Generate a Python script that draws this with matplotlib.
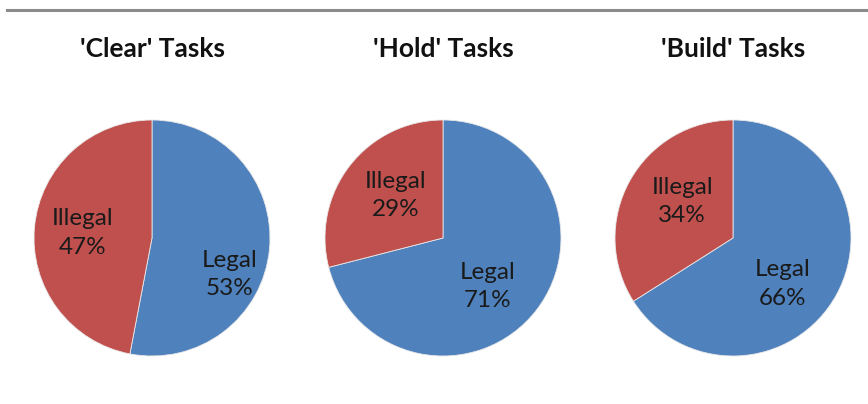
import matplotlib
matplotlib.use("Agg")
import matplotlib.pyplot as plt
from matplotlib.lines import Line2D

plt.rcParams["font.family"] = ["Lato", "DejaVu Sans"]

# task categories and their legal / illegal shares (percent)
titles = ["'Clear' Tasks", "'Hold' Tasks", "'Build' Tasks"]
legal_pct = [53, 71, 66]
illegal_pct = [47, 29, 34]
slice_names = ["Legal", "Illegal"]

COLORS = ["#4F81BD", "#C0504D"]

# label placement inside each pie, in radius units: (legal, illegal)
LABEL_POS = [
    ((0.66, -0.31), (-0.59, 0.04)),
    ((0.38, -0.41), (-0.40, 0.36)),
    ((0.42, -0.39), (-0.43, 0.31)),
]

W, H = 868, 404
fig = plt.figure(figsize=(W / 100, H / 100), dpi=100)

centers_x = [152, 443, 733]
center_y = 238
radius_px = 118
half = 1.1  # axis half-extent in radius units
box = 2 * half * radius_px

for i, title in enumerate(titles):
    cx = centers_x[i]
    ax = fig.add_axes([(cx - box / 2) / W, (H - center_y - box / 2) / H, box / W, box / H])
    ax.pie([legal_pct[i], illegal_pct[i]], colors=COLORS, startangle=90,
           counterclock=False, radius=1.0,
           wedgeprops=dict(edgecolor="#e8e8e8", linewidth=0.6))
    ax.set_xlim(-half, half)
    ax.set_ylim(-half, half)
    ax.set_aspect("equal")
    ax.axis("off")

    for name, val, (lx, ly) in zip(slice_names, [legal_pct[i], illegal_pct[i]], LABEL_POS[i]):
        ax.text(lx, ly, f"{name}\n{val}%", ha="center", va="center",
                fontsize=17.5, color="#1a1a1a", linespacing=1.45)

    fig.text(cx / W, 1 - 57 / H, title, ha="center", va="baseline",
             fontsize=19, fontweight="bold", color="#111111")

# thin grey rule along the top
fig.add_artist(Line2D([7 / W, 1.0], [1 - 9.5 / H, 1 - 9.5 / H],
                      transform=fig.transFigure, color="#8a8a8a", linewidth=2.2))

fig.savefig("out.png", dpi=100)
